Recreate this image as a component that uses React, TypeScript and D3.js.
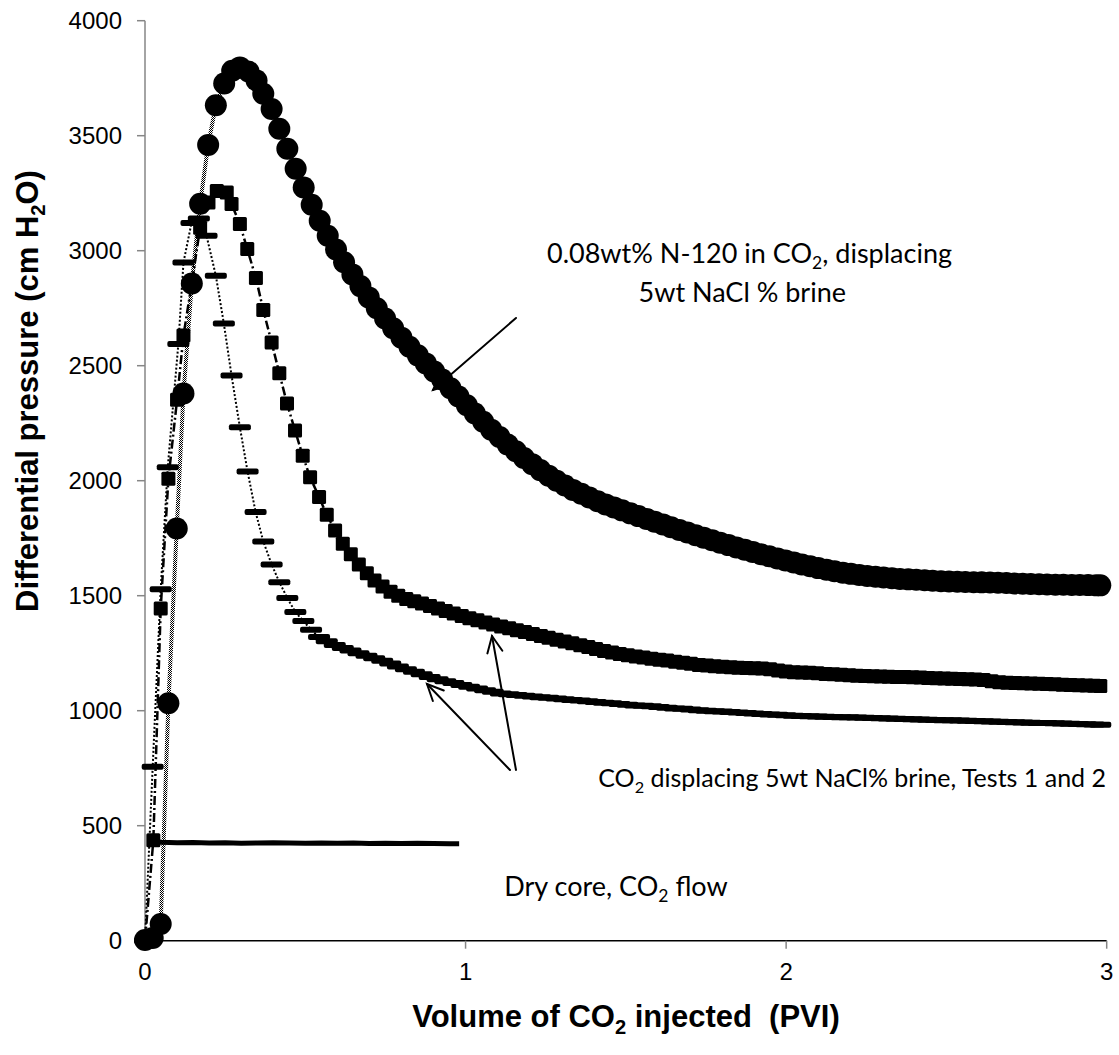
import React from 'react';
import * as d3 from 'd3';

type Pt = [number, number];

const xTicks: number[] = [0, 1, 2, 3];
const yTicks: number[] = [0, 500, 1000, 1500, 2000, 2500, 3000, 3500, 4000];

// 0.08 wt% N-120 in CO2 displacing brine (circles)
const foamN120: Pt[] = [
  [0, 3], [0.024, 12], [0.049, 73], [0.073, 1032], [0.099, 1792], [0.12, 2379], [0.146, 2857], [0.172, 3204],
  [0.197, 3460], [0.221, 3632], [0.247, 3727], [0.272, 3782], [0.296, 3797], [0.323, 3779], [0.348, 3740],
  [0.369, 3682], [0.395, 3616], [0.419, 3530], [0.444, 3443], [0.47, 3356], [0.495, 3275], [0.52, 3200],
  [0.545, 3130], [0.57, 3065], [0.596, 3005], [0.621, 2950], [0.647, 2897], [0.672, 2846], [0.698, 2797],
  [0.723, 2750], [0.749, 2705], [0.774, 2663], [0.8, 2622], [0.825, 2582], [0.851, 2545], [0.876, 2510],
  [0.902, 2475], [0.927, 2440], [0.953, 2402], [0.978, 2366], [1.004, 2328], [1.029, 2292], [1.055, 2256],
  [1.08, 2222], [1.106, 2190], [1.131, 2158], [1.157, 2128], [1.182, 2099], [1.208, 2072], [1.233, 2046],
  [1.259, 2022], [1.284, 2000], [1.31, 1979], [1.335, 1960], [1.361, 1943], [1.386, 1927], [1.412, 1911],
  [1.437, 1897], [1.463, 1884], [1.488, 1871], [1.514, 1858], [1.539, 1846], [1.565, 1834], [1.59, 1822],
  [1.616, 1810], [1.641, 1798], [1.667, 1786], [1.692, 1775], [1.718, 1763], [1.743, 1752], [1.769, 1741],
  [1.794, 1730], [1.82, 1720], [1.845, 1710], [1.871, 1700], [1.896, 1690], [1.922, 1680], [1.947, 1671],
  [1.973, 1662], [1.998, 1653], [2.024, 1644], [2.049, 1636], [2.075, 1628], [2.1, 1620], [2.126, 1613],
  [2.151, 1606], [2.177, 1600], [2.202, 1595], [2.228, 1590], [2.253, 1586], [2.279, 1582], [2.304, 1579],
  [2.33, 1576], [2.355, 1573], [2.381, 1571], [2.406, 1569], [2.432, 1567], [2.457, 1565], [2.483, 1563],
  [2.508, 1562], [2.534, 1561], [2.559, 1560], [2.585, 1559], [2.61, 1558], [2.636, 1557], [2.661, 1556],
  [2.687, 1555], [2.712, 1553], [2.738, 1552], [2.763, 1551], [2.789, 1550], [2.814, 1549], [2.84, 1548],
  [2.865, 1548], [2.891, 1547], [2.916, 1547], [2.942, 1546], [2.967, 1545], [2.98, 1545],
];

// CO2 displacing 5wt NaCl brine, test 1 (squares)
const brineTest1: Pt[] = [
  [0, 0], [0.026, 437], [0.049, 1444], [0.073, 2008], [0.1, 2352], [0.12, 2631], [0.146, 2860], [0.172, 3100],
  [0.198, 3210], [0.224, 3260], [0.255, 3253], [0.27, 3203], [0.296, 3116], [0.319, 3007], [0.346, 2881],
  [0.369, 2742], [0.395, 2601], [0.419, 2467], [0.443, 2336], [0.468, 2218], [0.492, 2109], [0.515, 2015],
  [0.543, 1929], [0.567, 1852], [0.593, 1784], [0.617, 1726], [0.642, 1680], [0.667, 1636], [0.692, 1598],
  [0.716, 1566], [0.741, 1540], [0.766, 1517], [0.79, 1500], [0.815, 1486], [0.84, 1476], [0.864, 1466],
  [0.889, 1455], [0.914, 1444], [0.938, 1433], [0.963, 1423], [0.988, 1412], [1.012, 1402], [1.037, 1393],
  [1.062, 1384], [1.086, 1375], [1.111, 1366], [1.136, 1358], [1.16, 1350], [1.185, 1342], [1.21, 1333],
  [1.235, 1325], [1.259, 1317], [1.284, 1309], [1.309, 1301], [1.333, 1293], [1.358, 1285], [1.383, 1277],
  [1.407, 1268], [1.432, 1260], [1.457, 1253], [1.481, 1247], [1.506, 1241], [1.531, 1236], [1.555, 1231],
  [1.58, 1226], [1.605, 1222], [1.629, 1218], [1.654, 1213], [1.679, 1209], [1.703, 1204], [1.728, 1199],
  [1.753, 1196], [1.777, 1193], [1.802, 1191], [1.827, 1189], [1.851, 1187], [1.876, 1186], [1.901, 1185],
  [1.925, 1183], [1.95, 1180], [1.975, 1175], [1.999, 1170], [2.024, 1167], [2.049, 1166], [2.073, 1165],
  [2.098, 1163], [2.123, 1160], [2.147, 1158], [2.172, 1156], [2.197, 1154], [2.221, 1152], [2.246, 1151],
  [2.271, 1150], [2.295, 1149], [2.32, 1148], [2.345, 1147], [2.369, 1146], [2.394, 1145], [2.419, 1144],
  [2.443, 1142], [2.468, 1141], [2.493, 1140], [2.517, 1139], [2.542, 1138], [2.567, 1137], [2.591, 1136],
  [2.616, 1133], [2.641, 1128], [2.665, 1124], [2.69, 1122], [2.715, 1120], [2.739, 1119], [2.764, 1118],
  [2.789, 1117], [2.813, 1116], [2.838, 1115], [2.863, 1113], [2.887, 1112], [2.912, 1111], [2.937, 1110],
  [2.961, 1108], [2.98, 1107],
];

// CO2 displacing 5wt NaCl brine, test 2 (dash markers)
const brineTest2: Pt[] = [
  [0, 0], [0.024, 756], [0.049, 1528], [0.071, 2059], [0.104, 2594], [0.12, 2949], [0.145, 3120], [0.168, 3140],
  [0.192, 3065], [0.221, 2891], [0.246, 2683], [0.27, 2457], [0.296, 2232], [0.32, 2040], [0.345, 1864],
  [0.369, 1736], [0.395, 1636], [0.419, 1559], [0.444, 1490], [0.469, 1429], [0.494, 1390], [0.518, 1352],
  [0.543, 1320], [0.567, 1302], [0.592, 1286], [0.617, 1273], [0.641, 1262], [0.666, 1250], [0.691, 1239],
  [0.715, 1228], [0.74, 1217], [0.765, 1205], [0.789, 1192], [0.814, 1180], [0.839, 1169], [0.863, 1158],
  [0.888, 1147], [0.913, 1137], [0.937, 1128], [0.962, 1120], [0.987, 1112], [1.011, 1104], [1.036, 1096],
  [1.061, 1089], [1.085, 1082], [1.11, 1075], [1.135, 1071], [1.159, 1068], [1.184, 1065], [1.209, 1062],
  [1.233, 1059], [1.258, 1056], [1.283, 1053], [1.307, 1050], [1.332, 1047], [1.357, 1044], [1.381, 1041],
  [1.406, 1038], [1.431, 1035], [1.455, 1032], [1.48, 1029], [1.505, 1026], [1.529, 1023], [1.554, 1021],
  [1.579, 1019], [1.603, 1016], [1.628, 1013], [1.653, 1010], [1.677, 1008], [1.702, 1005], [1.727, 1002],
  [1.751, 1000], [1.776, 998], [1.801, 996], [1.825, 994], [1.85, 992], [1.875, 990], [1.899, 988],
  [1.924, 986], [1.949, 984], [1.973, 982], [1.998, 980], [2.023, 978], [2.047, 977], [2.072, 976],
  [2.097, 975], [2.121, 974], [2.146, 973], [2.171, 972], [2.195, 971], [2.22, 970], [2.245, 969],
  [2.269, 968], [2.294, 967], [2.319, 966], [2.343, 965], [2.368, 964], [2.393, 963], [2.417, 962],
  [2.442, 961], [2.467, 960], [2.491, 959], [2.516, 958], [2.541, 957], [2.565, 956], [2.59, 955],
  [2.615, 954], [2.639, 953], [2.664, 952], [2.689, 951], [2.713, 950], [2.738, 949], [2.763, 948],
  [2.787, 947], [2.812, 946], [2.837, 945], [2.861, 944], [2.886, 943], [2.911, 942], [2.935, 941],
  [2.96, 940], [2.98, 939],
];

// Dry core, CO2 flow
const dryCore: Pt[] = [
  [0.025, 432], [0.05, 428], [0.1, 426], [0.15, 427], [0.2, 425], [0.25, 426], [0.3, 424], [0.35, 425],
  [0.4, 426], [0.45, 425], [0.5, 424], [0.55, 425], [0.6, 424], [0.65, 425], [0.7, 423], [0.75, 424],
  [0.8, 423], [0.85, 424], [0.9, 423], [0.95, 422], [0.98, 422],
];

const W = 1119;
const H = 1055;
const plot = { left: 145, right: 1106.7, top: 20.7, bottom: 940.7 };

const x = d3.scaleLinear().domain([0, 3]).range([plot.left, plot.right]);
const y = d3.scaleLinear().domain([0, 4000]).range([plot.bottom, plot.top]);
const line = d3.line<Pt>().x((d) => x(d[0])).y((d) => y(d[1]));

const ANN_FONT = "Lato, 'Open Sans', sans-serif";
const AX_FONT = "'Liberation Sans', Arial, sans-serif";

// text with a subscript in the middle: before + sub + after
function SubText(props: {
  x: number; y: number; size: number; before: string; sub: string; after: string;
  anchor?: string; family: string; weight?: string; transform?: string;
}) {
  const shift = props.size * 0.22;
  return (
    <text
      x={props.x}
      y={props.y}
      transform={props.transform}
      textAnchor={props.anchor || 'start'}
      fontFamily={props.family}
      fontWeight={props.weight || 'normal'}
      fontSize={props.size}
      fill="#000"
    >
      <tspan>{props.before}</tspan>
      <tspan fontSize={props.size * 0.65} dy={shift}>{props.sub}</tspan>
      <tspan dy={-shift}>{props.after}</tspan>
    </text>
  );
}

function Arrow({ x1, y1, x2, y2 }: { x1: number; y1: number; x2: number; y2: number }) {
  const ang = Math.atan2(y2 - y1, x2 - x1);
  const L = 18;
  const a = (25 * Math.PI) / 180;
  const p1 = [x2 - L * Math.cos(ang - a), y2 - L * Math.sin(ang - a)];
  const p2 = [x2 - L * Math.cos(ang + a), y2 - L * Math.sin(ang + a)];
  return (
    <g stroke="#000" strokeWidth={2} fill="none" strokeLinecap="round">
      <line x1={x1} y1={y1} x2={x2} y2={y2} />
      <polyline points={`${p1[0]},${p1[1]} ${x2},${y2} ${p2[0]},${p2[1]}`} />
    </g>
  );
}

export default function App() {
  return (
    <svg width={W} height={H} style={{ position: 'absolute', left: 0, top: 0, background: '#fff' }}>
      <defs>
        <pattern id="checker" width="2" height="2" patternUnits="userSpaceOnUse">
          <rect x="0" y="0" width="1" height="1" fill="#000" />
          <rect x="1" y="1" width="1" height="1" fill="#000" />
        </pattern>
      </defs>
      <rect width={W} height={H} fill="#fff" />

      {/* axes */}
      <line x1={plot.left} x2={plot.left} y1={plot.top} y2={plot.bottom} stroke="#868686" strokeWidth={1.5} />
      {yTicks.map((t) => (
        <g key={'y' + t}>
          <line x1={plot.left - 8} x2={plot.left} y1={y(t)} y2={y(t)} stroke="#868686" strokeWidth={1.5} />
          <text x={122} y={y(t)} dy="0.35em" textAnchor="end" fontFamily={AX_FONT} fontSize={24} fill="#000">
            {t}
          </text>
        </g>
      ))}
      <line x1={plot.left} x2={plot.right} y1={plot.bottom} y2={plot.bottom} stroke="#000" strokeWidth={1.5} />
      {xTicks.map((t) => (
        <g key={'x' + t}>
          <line x1={x(t)} x2={x(t)} y1={plot.bottom} y2={plot.bottom + 8} stroke="#868686" strokeWidth={1.5} />
          <text x={x(t)} y={980} textAnchor="middle" fontFamily={AX_FONT} fontSize={24} fill="#000">
            {t}
          </text>
        </g>
      ))}

      {/* axis titles */}
      <SubText
        x={0} y={0} transform="translate(38,391) rotate(-90)" anchor="middle" family={AX_FONT} weight="bold"
        size={31} before="Differential pressure (cm H" sub="2" after="O)"
      />
      <SubText
        x={626} y={1027} anchor="middle" family={AX_FONT} weight="bold" size={31}
        before="Volume of CO" sub="2" after={' injected\u00A0\u00A0(PVI)'}
      />

      {/* dry core */}
      <path d={line(dryCore) || ''} fill="none" stroke="#000" strokeWidth={5} />

      {/* test 2: dash markers, dotted line */}
      <path d={line(brineTest2) || ''} fill="none" stroke="#000" strokeWidth={2} strokeDasharray="2 2" />
      {brineTest2.map((d, i) => (
        <rect key={'t2' + i} x={x(d[0]) - 11} y={y(d[1]) - 3} width={22} height={6} rx={2} fill="#000" />
      ))}

      {/* test 1: squares, dash-dot line */}
      <path d={line(brineTest1) || ''} fill="none" stroke="#000" strokeWidth={2.5} strokeDasharray="9 3 2 3" />
      {brineTest1.map((d, i) => (
        <rect key={'t1' + i} x={x(d[0]) - 7} y={y(d[1]) - 7} width={14} height={14} rx={1.5} fill="#000" />
      ))}

      {/* foam: circles, checkered line */}
      <path d={line(foamN120) || ''} fill="none" stroke="url(#checker)" strokeWidth={4} />
      {foamN120.map((d, i) => (
        <circle key={'f' + i} cx={x(d[0])} cy={y(d[1])} r={11} fill="#000" />
      ))}

      {/* annotations */}
      <SubText
        x={952} y={263} anchor="end" family={ANN_FONT} size={27}
        before="0.08wt% N-120 in CO" sub="2" after=", displacing"
      />
      <text x={846} y={302} textAnchor="end" fontFamily={ANN_FONT} fontSize={27} fill="#000">
        5wt NaCl % brine
      </text>
      <Arrow x1={516} y1={318} x2={433} y2={390} />

      <SubText
        x={1106} y={787} anchor="end" family={ANN_FONT} size={25}
        before="CO" sub="2" after=" displacing 5wt NaCl% brine, Tests 1 and 2"
      />
      <Arrow x1={510} y1={770} x2={427} y2={684} />
      <Arrow x1={516} y1={770} x2={492} y2={636} />

      <SubText
        x={616} y={896} anchor="middle" family={ANN_FONT} size={27}
        before="Dry core, CO" sub="2" after=" flow"
      />
    </svg>
  );
}
